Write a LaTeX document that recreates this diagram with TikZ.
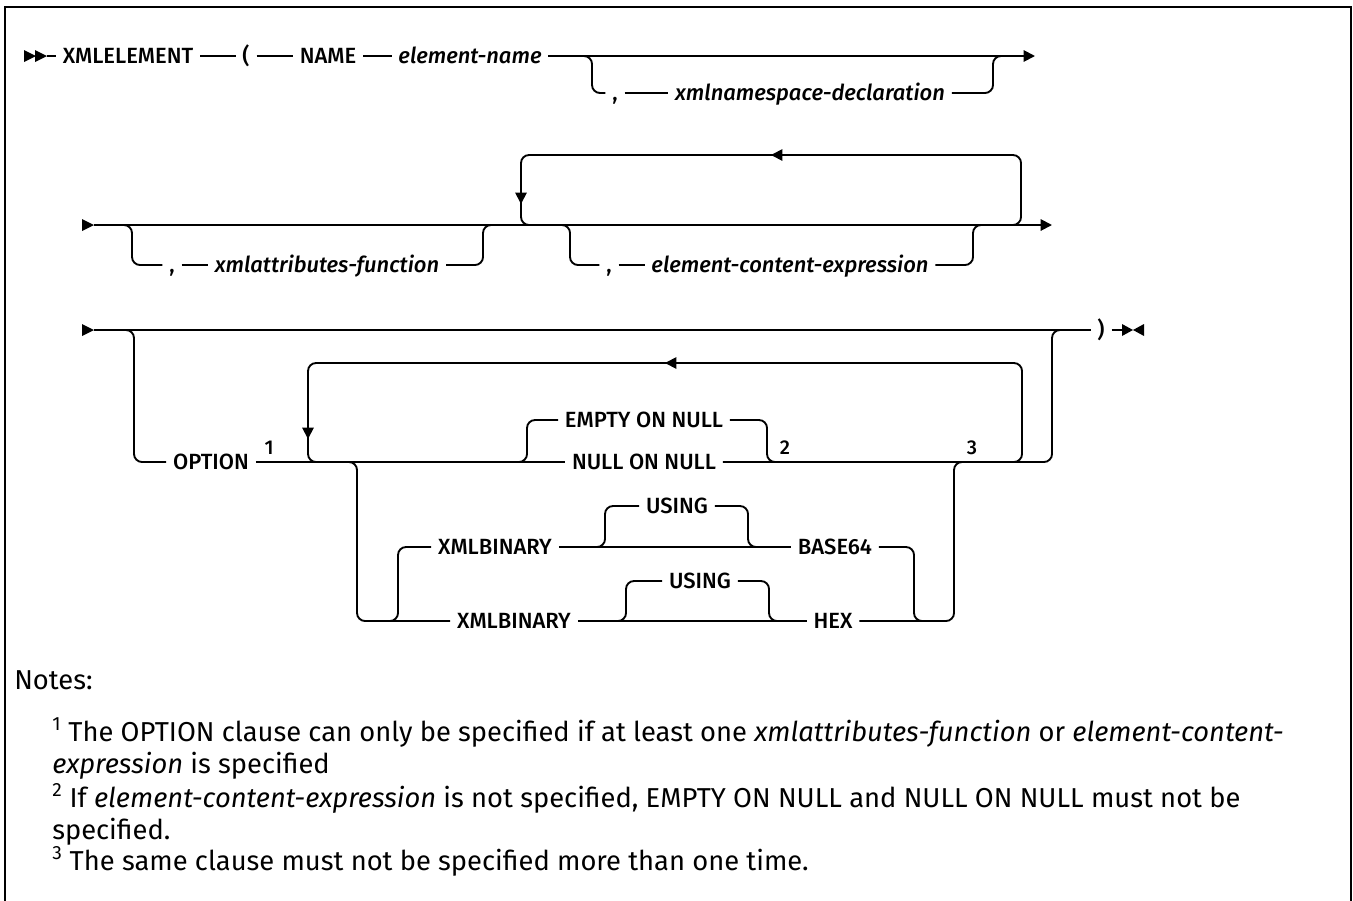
\documentclass[tikz,border=0pt]{standalone}
\usepackage{fontspec}
\setmainfont{Fira Sans}
\newfontfamily\railfont{Fira Sans}[UprightFont=* Medium, ItalicFont=* Medium Italic]
\usetikzlibrary{arrows.meta}

\tikzset{
    rail/.style={line width=1.4pt, rounded corners=6pt},
    tip/.style={line width=1.4pt, -{Triangle[length=8.5pt,width=8.5pt]}},
    kw/.style={font=\railfont\fontsize{16.5}{18}\selectfont, inner xsep=5pt, inner ysep=0pt, text height=11.4pt, text depth=0pt},
    var/.style={kw, font=\railfont\itshape\fontsize{16.5}{18}\selectfont},
    fnum/.style={font=\railfont\fontsize{15}{16}\selectfont, inner sep=0pt},
    note/.style={font=\fontsize{20.5}{24}\selectfont, anchor=base west, inner sep=0pt}
}

\begin{document}
\begin{tikzpicture}[x=0.75pt, y=-0.75pt]
    \useasboundingbox (0,0) rectangle (1353,900);
    % Frame
    \draw[line width=1.6pt] (5,905) -- (5,7) -- (1351,7) -- (1351,905);

    % Nodes (row 1)
    \node[kw] (xmlel) at (128,56) {XMLELEMENT};
    \node[kw] (lpar) at (246,56) {(};
    \node[kw] (name) at (328,56) {NAME};
    \node[var] (ename) at (470,56) {element-name};
    \node[kw] (cm1) at (615,93) {,};
    \node[var] (xns) at (810,93) {xmlnamespace-declaration};
    \coordinate (s1) at (47,56);
    \coordinate (r1end) at (1035,56);

    % Edges (row 1)
    \fill (24,50) -- (36,56) -- (24,62) -- cycle;
    \fill (35,50) -- (47,56) -- (35,62) -- cycle;
    \draw[rail] (s1) -- (xmlel);
    \draw[rail] (xmlel) -- (lpar);
    \draw[rail] (lpar) -- (name);
    \draw[rail] (name) -- (ename);
    \draw[tip] (ename) -- (r1end);
    \draw[rail] (578,56) -- (592,56) -- (592,93) -- (cm1);
    \draw[rail] (cm1) -- (xns);
    \draw[rail] (xns) -- (993,93) -- (993,56) -- (1007,56);

    % Nodes (row 2)
    \node[kw] (cm2) at (172,265) {,};
    \node[var] (xattr) at (327,265) {xmlattributes-function};
    \node[kw] (cm3) at (609,265) {,};
    \node[var] (ecexpr) at (790,265) {element-content-expression};
    \coordinate (s2) at (94,225);
    \coordinate (r2end) at (1052,225);

    % Edges (row 2)
    \fill (82,219) -- (94,225) -- (82,231) -- cycle;
    \draw[tip] (s2) -- (r2end);
    \draw[rail] (118,225) -- (132,225) -- (132,265) -- (cm2);
    \draw[rail] (cm2) -- (xattr);
    \draw[rail] (xattr) -- (483,265) -- (483,225) -- (497,225);
    \draw[rail] (535,225) -- (521,225) -- (521,155) -- (1021,155) -- (1021,225) -- (1007,225);
    \draw[tip] (787,155) -- (771,155);
    \draw[tip] (521,188) -- (521,204);
    \draw[rail] (556,225) -- (570,225) -- (570,265) -- (cm3);
    \draw[rail] (cm3) -- (ecexpr);
    \draw[rail] (ecexpr) -- (973,265) -- (973,225) -- (987,225);

    % Nodes (row 3)
    \node[kw] (rpar) at (1101,330) {)};
    \node[kw] (opt) at (211,462) {OPTION};
    \node[fnum] (sup1) at (269,448) {1};
    \node[kw] (eon) at (644,420) {EMPTY ON NULL};
    \node[kw] (non) at (644,462) {NULL ON NULL};
    \node[fnum] (sup2) at (785,448) {2};
    \node[fnum] (sup3) at (972,448) {3};
    \node[kw] (xb1) at (495,547) {XMLBINARY};
    \node[kw] (us1) at (677,506) {USING};
    \node[kw] (b64) at (835,547) {BASE64};
    \node[kw] (xb2) at (514,621) {XMLBINARY};
    \node[kw] (us2) at (700,581) {USING};
    \node[kw] (hex) at (833,621) {HEX};
    \coordinate (s3) at (94,330);
    \coordinate (e3) at (1122,330);

    % Edges (row 3)
    \fill (82,324) -- (94,330) -- (82,336) -- cycle;
    \draw[rail] (s3) -- (rpar);
    \draw[rail] (rpar) -- (e3);
    \fill (1122,324) -- (1133,330) -- (1122,336) -- cycle;
    \fill (1144,324) -- (1133,330) -- (1144,336) -- cycle;
    \draw[rail] (120,330) -- (134,330) -- (134,462) -- (opt);
    \draw[rail] (opt) -- (non);
    \draw[rail] (non) -- (1052,462) -- (1052,330) -- (1066,330);
    \draw[rail] (322,462) -- (308,462) -- (308,363) -- (1022,363) -- (1022,462) -- (1008,462);
    \draw[tip] (681,363) -- (665,363);
    \draw[tip] (308,423) -- (308,439);
    \draw[rail] (513,462) -- (527,462) -- (527,420) -- (eon);
    \draw[rail] (eon) -- (767,420) -- (767,462) -- (781,462);
    \draw[rail] (343,462) -- (357,462) -- (357,621) -- (xb2);
    \draw[rail] (384,621) -- (398,621) -- (398,547) -- (xb1);
    \draw[rail] (xb1) -- (b64);
    \draw[rail] (591,547) -- (605,547) -- (605,506) -- (us1);
    \draw[rail] (us1) -- (748,506) -- (748,547) -- (762,547);
    \draw[rail] (b64) -- (914,547) -- (914,621) -- (928,621);
    \draw[rail] (xb2) -- (hex);
    \draw[rail] (612,621) -- (626,621) -- (626,581) -- (us2);
    \draw[rail] (us2) -- (769,581) -- (769,621) -- (783,621);
    \draw[rail] (hex) -- (954,621) -- (954,462) -- (968,462);

    % Notes
    \node[note] (notes) at (14,689) {Notes:};
    \node[note] (n1a) at (52,741) {\textsuperscript{1} The OPTION clause can only be specified if at least one \textit{xmlattributes-function} or \textit{element-content-}};
    \node[note] (n1b) at (52,773) {\textit{expression} is specified};
    \node[note] (n2a) at (52,807) {\textsuperscript{2} If \textit{element-content-expression} is not specified, EMPTY ON NULL and NULL ON NULL must not be};
    \node[note] (n2b) at (52,839) {specified.};
    \node[note] (n3) at (52,870) {\textsuperscript{3} The same clause must not be specified more than one time.};
\end{tikzpicture}
\end{document}
